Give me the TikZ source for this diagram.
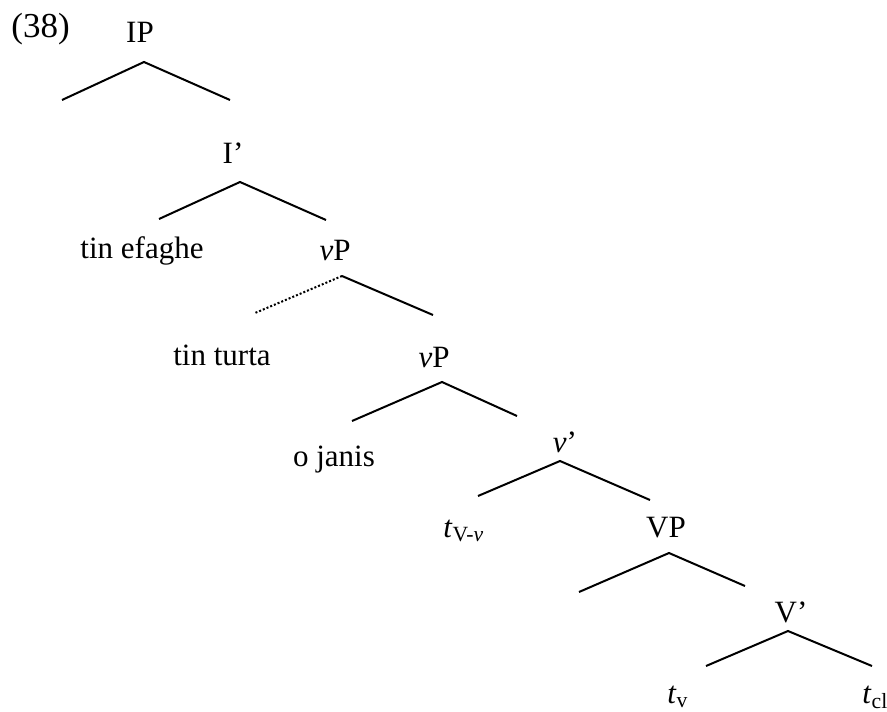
\documentclass[tikz,border=0pt]{standalone}
\usepackage{fontspec}
\setmainfont{Liberation Serif}
\tikzstyle{branch} = [line width=1pt]
\tikzstyle{lbl} = [inner sep=0pt, anchor=base, font=\fontsize{15.5}{18}\selectfont]

\begin{document}
\begin{tikzpicture}[x=0.5pt, y=-0.5pt]
\useasboundingbox (0,0) rectangle (887,711);

% labels
\node[lbl, anchor=base west, font=\fontsize{17.5}{21}\selectfont] (num) at (11,38) {(38)};
\node[lbl] (ip) at (140,43) {IP};
\node[lbl] (ibar) at (233,163) {I'};
\node[lbl] (obj) at (142,258) {tin efaghe};
\node[lbl] (vp1) at (335,260) {\textit{v}P};
\node[lbl] (top) at (222,365) {tin turta};
\node[lbl] (vp2) at (434,367) {\textit{v}P};
\node[lbl] (subj) at (334,466) {o janis};
\node[lbl] (vbar) at (565,452) {\textit{v}'};
\node[lbl, anchor=base west] (tvv) at (443,537) {\textit{t}\textsubscript{V-\textit{v}}};
\node[lbl] (bigvp) at (666,537) {VP};
\node[lbl] (bigvbar) at (791,622) {V'};
\node[lbl, anchor=base west] (tv) at (667,703) {\textit{t}\textsubscript{v}};
\node[lbl, anchor=base west] (tcl) at (862,703) {\textit{t}\textsubscript{cl}};

% branch points
\coordinate (ip-a) at (144,62);
\coordinate (ip-l) at (62,100);
\coordinate (ip-r) at (230,100);
\coordinate (ibar-a) at (240,182);
\coordinate (ibar-l) at (159,219);
\coordinate (ibar-r) at (326,220);
\coordinate (vp1-a) at (342,276);
\coordinate (vp1-l) at (255,313);
\coordinate (vp1-r) at (433,315);
\coordinate (vp2-a) at (442,382);
\coordinate (vp2-l) at (352,421);
\coordinate (vp2-r) at (517,416);
\coordinate (vbar-a) at (560,461);
\coordinate (vbar-l) at (478,496);
\coordinate (vbar-r) at (650,500);
\coordinate (bigvp-a) at (669,553);
\coordinate (bigvp-l) at (579,592);
\coordinate (bigvp-r) at (745,586);
\coordinate (bigvbar-a) at (788,631);
\coordinate (bigvbar-l) at (706,666);
\coordinate (bigvbar-r) at (872,666);

% branches
\draw[branch] (ip-l) -- (ip-a) -- (ip-r);
\draw[branch] (ibar-l) -- (ibar-a) -- (ibar-r);
\draw[branch, densely dotted] (vp1-a) -- (vp1-l);
\draw[branch] (vp1-a) -- (vp1-r);
\draw[branch] (vp2-l) -- (vp2-a) -- (vp2-r);
\draw[branch] (vbar-l) -- (vbar-a) -- (vbar-r);
\draw[branch] (bigvp-l) -- (bigvp-a) -- (bigvp-r);
\draw[branch] (bigvbar-l) -- (bigvbar-a) -- (bigvbar-r);
\end{tikzpicture}
\end{document}
